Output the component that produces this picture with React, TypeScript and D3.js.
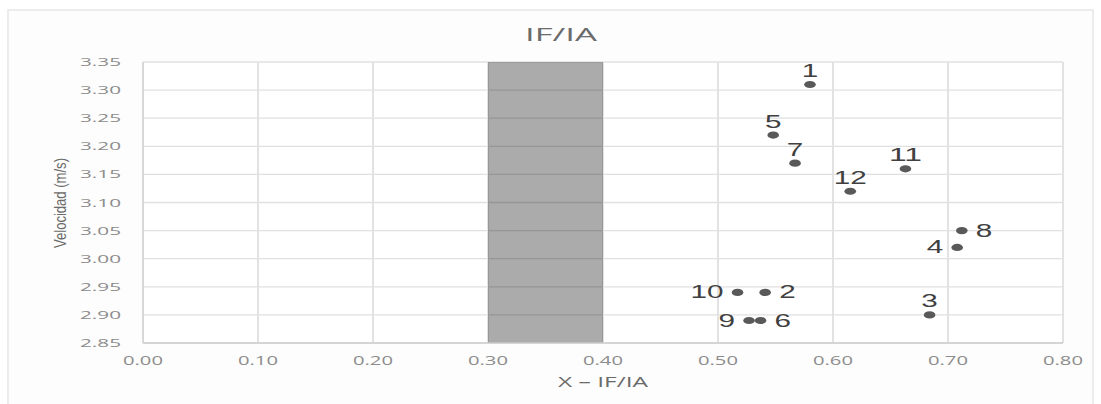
import React from "react";
import * as d3 from "d3";

const pointIds = ["1", "2", "3", "4", "5", "6", "7", "8", "9", "10", "11", "12"];
const xValues = [0.58, 0.541, 0.684, 0.708, 0.548, 0.537, 0.567, 0.712, 0.527, 0.517, 0.663, 0.615];
const yValues = [3.31, 2.94, 2.9, 3.02, 3.22, 2.89, 3.17, 3.05, 2.89, 2.94, 3.16, 3.12];
const labelSides = ["top", "right", "top", "left", "top", "right", "top", "right", "left", "left", "top", "top"];
const bandRange = [0.3, 0.4];
const xTicks = [0, 0.1, 0.2, 0.3, 0.4, 0.5, 0.6, 0.7, 0.8];
const yTicks = [2.85, 2.9, 2.95, 3.0, 3.05, 3.1, 3.15, 3.2, 3.25, 3.3, 3.35];
const titleText = "IF/IA";
const xTitle = "X – IF/IA";
const yTitle = "Velocidad (m/s)";

const W = 1101;
const H = 404;
const plot = { left: 143, right: 1063, top: 62, bottom: 343 };

export default function App() {
  const x = d3.scaleLinear().domain([0, 0.8]).range([plot.left, plot.right]);
  const y = d3.scaleLinear().domain([2.85, 3.35]).range([plot.bottom, plot.top]);
  const fmt = d3.format(".2f");
  const tickFont = "'Open Sans', 'DejaVu Sans', sans-serif";
  const labelFont = "'Liberation Sans', Arial, sans-serif";

  return (
    <svg
      width={W}
      height={H}
      viewBox={`0 0 ${W} ${H}`}
      style={{ position: "absolute", left: 0, top: 0, background: "#ffffff" }}
    >
      <rect x={8} y={10} width={1085} height={400} fill="#fdfdfd" stroke="#e6e6e6" strokeWidth={1.5} />

      <text
        x={561}
        y={41}
        textAnchor="middle"
        fontFamily={tickFont}
        fontSize={19}
        fill="#6b6b6b"
        textLength={72}
        lengthAdjust="spacingAndGlyphs"
      >
        {titleText}
      </text>

      <rect x={plot.left} y={plot.top} width={plot.right - plot.left} height={plot.bottom - plot.top} fill="#ffffff" />

      {yTicks.map((t) => (
        <line key={"gy" + t} x1={plot.left} x2={plot.right} y1={y(t)} y2={y(t)} stroke="#e0e0e0" strokeWidth={1.3} />
      ))}
      {xTicks.map((t) => (
        <line key={"gx" + t} x1={x(t)} x2={x(t)} y1={plot.top} y2={plot.bottom} stroke="#e2e2e2" strokeWidth={2} />
      ))}

      <rect
        x={x(bandRange[0])}
        y={plot.top}
        width={x(bandRange[1]) - x(bandRange[0])}
        height={plot.bottom - plot.top}
        fill="#000000"
        fillOpacity={0.33}
      />

      <line x1={plot.left} x2={plot.right} y1={plot.bottom} y2={plot.bottom} stroke="#cfcfcf" strokeWidth={1.5} />
      <line x1={plot.left} x2={plot.left} y1={plot.top} y2={plot.bottom} stroke="#d4d4d4" strokeWidth={1.5} />

      {yTicks.map((t) => (
        <text
          key={"ty" + t}
          x={121}
          y={y(t) + 4}
          textAnchor="end"
          fontFamily={tickFont}
          fontSize={11}
          fill="#8c8c8c"
          textLength={41}
          lengthAdjust="spacingAndGlyphs"
        >
          {fmt(t)}
        </text>
      ))}
      {xTicks.map((t) => (
        <text
          key={"tx" + t}
          x={x(t)}
          y={365}
          textAnchor="middle"
          fontFamily={tickFont}
          fontSize={12}
          fill="#8c8c8c"
          textLength={40}
          lengthAdjust="spacingAndGlyphs"
        >
          {fmt(t)}
        </text>
      ))}

      <text
        x={(plot.left + plot.right) / 2}
        y={387}
        textAnchor="middle"
        fontFamily={tickFont}
        fontSize={14}
        fill="#6b6b6b"
        textLength={90}
        lengthAdjust="spacingAndGlyphs"
      >
        {xTitle}
      </text>

      <text
        transform={`translate(66, 203) rotate(-90)`}
        textAnchor="middle"
        fontFamily={labelFont}
        fontSize={17}
        fill="#6b6b6b"
        textLength={90}
        lengthAdjust="spacingAndGlyphs"
      >
        {yTitle}
      </text>

      {pointIds.map((id, i) => {
        const cx = x(xValues[i]);
        const cy = y(yValues[i]);
        const side = labelSides[i];
        const len = id.length * 16.5;
        let lx = cx;
        let ly = cy - 7.5;
        let anchor = "middle";
        if (side === "right") {
          lx = cx + 14;
          ly = cy + 6;
          anchor = "start";
        } else if (side === "left") {
          lx = cx - 14;
          ly = cy + 6;
          anchor = "end";
        }
        return (
          <g key={"p" + id}>
            <ellipse cx={cx} cy={cy} rx={5.8} ry={3.6} fill="#595959" />
            <text
              x={lx}
              y={ly}
              textAnchor={anchor}
              fontFamily={labelFont}
              fontSize={18}
              fill="#404040"
              textLength={len}
              lengthAdjust="spacingAndGlyphs"
            >
              {id}
            </text>
          </g>
        );
      })}
    </svg>
  );
}
